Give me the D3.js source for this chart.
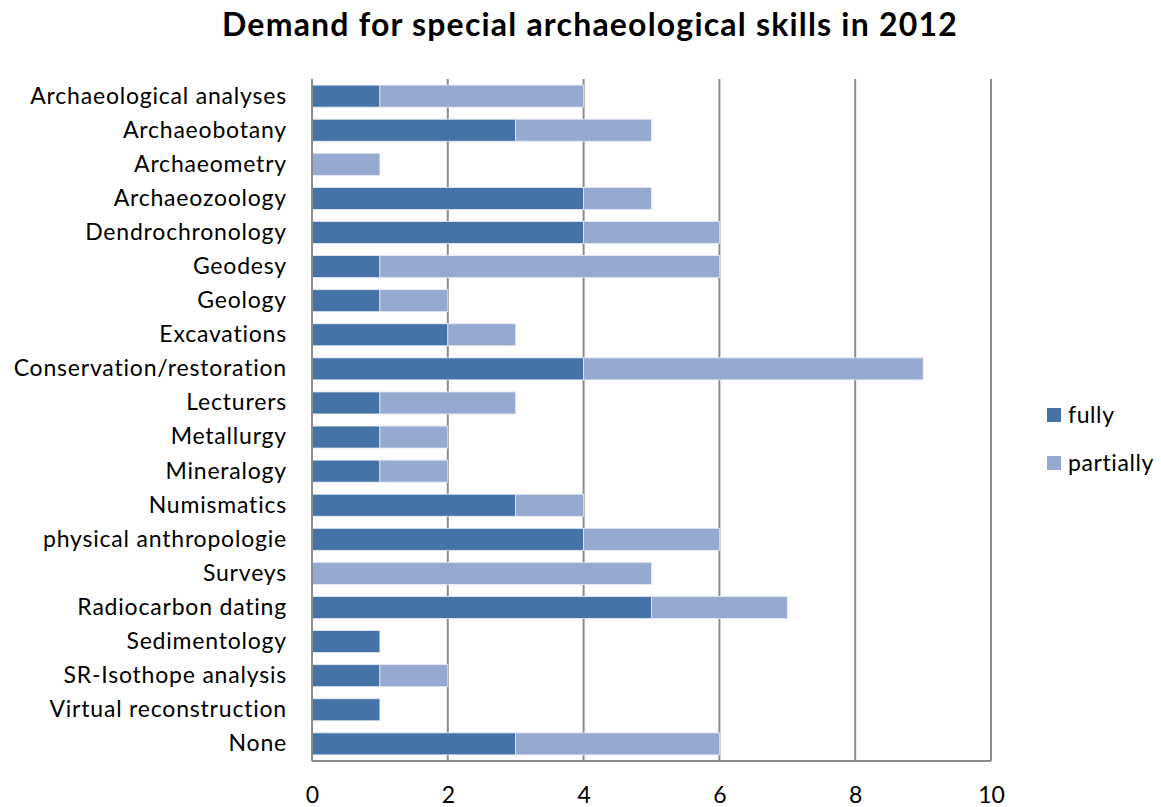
<!DOCTYPE html>
<html><head><meta charset="utf-8">
<script src="https://cdn.jsdelivr.net/npm/d3@7"></script>
<style>body{margin:0;background:#fff;} text{font-family:Lato, "Open Sans", sans-serif;}</style>
</head><body><svg id="c" width="1161" height="807"></svg>
<script>
const categories = ["Archaeological analyses","Archaeobotany","Archaeometry","Archaeozoology","Dendrochronology","Geodesy","Geology","Excavations","Conservation/restoration","Lecturers","Metallurgy","Mineralogy","Numismatics","physical anthropologie","Surveys","Radiocarbon dating","Sedimentology","SR-Isothope analysis","Virtual reconstruction","None"];
const fully =     [1,3,0,4,4,1,1,2,4,1,1,1,3,4,0,5,1,1,1,3];
const partially = [3,2,1,1,2,5,1,1,5,2,1,1,1,2,5,2,0,1,0,3];
const seriesNames = ["fully","partially"];
const colors = ["#4573a7","#95a9d1"];
const xTicks = [0,2,4,6,8,10];
const title = "Demand for special archaeological skills in 2012";

const svg = d3.select("#c");
const m = {l:312, r:991, t:79, b:761};
const x = d3.scaleLinear().domain([0,10]).range([m.l, m.r]);
const y = d3.scaleBand().domain(categories).range([m.t, m.b]).paddingInner(0.355).paddingOuter(0.18);

svg.append("text").attr("x",590).attr("y",36).attr("text-anchor","middle")
  .style("font-size","32px").style("font-weight","bold").style("letter-spacing","1.2px").text(title);

// gridlines
svg.append("g").selectAll("line").data(xTicks.slice(1)).join("line")
  .attr("x1",d=>x(d)).attr("x2",d=>x(d)).attr("y1",m.t).attr("y2",m.b)
  .attr("stroke","#8c8c8c").attr("stroke-width",2);

const stackData = categories.map((c,i)=>({cat:c, fully:fully[i], partially:partially[i]}));
const stack = d3.stack().keys(seriesNames)(stackData);
svg.append("g").selectAll("g").data(stack).join("g").attr("fill",(d,i)=>colors[i])
  .selectAll("rect").data(d=>d.filter(v=>v[1]-v[0]>0)).join("rect")
  .attr("x",d=>x(d[0])).attr("width",d=>x(d[1])-x(d[0]))
  .attr("y",d=>y(d.data.cat)).attr("height",y.bandwidth())
  .attr("stroke","#e4e9f3").attr("stroke-width",0.8);

// axes lines
svg.append("line").attr("x1",m.l).attr("x2",m.l).attr("y1",m.t).attr("y2",m.b).attr("stroke","#8c8c8c").attr("stroke-width",2);
svg.append("line").attr("x1",m.l).attr("x2",m.r).attr("y1",m.b).attr("y2",m.b).attr("stroke","#8c8c8c").attr("stroke-width",2);

const xAxis = svg.append("g").attr("transform",`translate(0,${m.b})`)
  .call(d3.axisBottom(x).tickValues(xTicks).tickSize(0).tickPadding(26));
xAxis.select(".domain").remove();
xAxis.selectAll("text").style("font-size","23px").attr("fill","#000").style("font-family","Lato, sans-serif");

const yAxis = svg.append("g").attr("transform",`translate(${m.l},0)`)
  .call(d3.axisLeft(y).tickSize(0).tickPadding(25));
yAxis.select(".domain").remove();
yAxis.selectAll("text").style("font-size","23px").style("letter-spacing","0.8px").attr("fill","#000").style("font-family","Lato, sans-serif");

// legend
const lg = svg.append("g");
seriesNames.forEach((s,i)=>{
  const yy = 415 + i*48;
  lg.append("rect").attr("x",1047).attr("y",yy-7).attr("width",14).attr("height",14).attr("fill",colors[i]);
  lg.append("text").attr("x",1068).attr("y",yy).attr("dy","0.35em").style("font-size","23px").style("letter-spacing","0.6px").text(s);
});
</script></body></html>
